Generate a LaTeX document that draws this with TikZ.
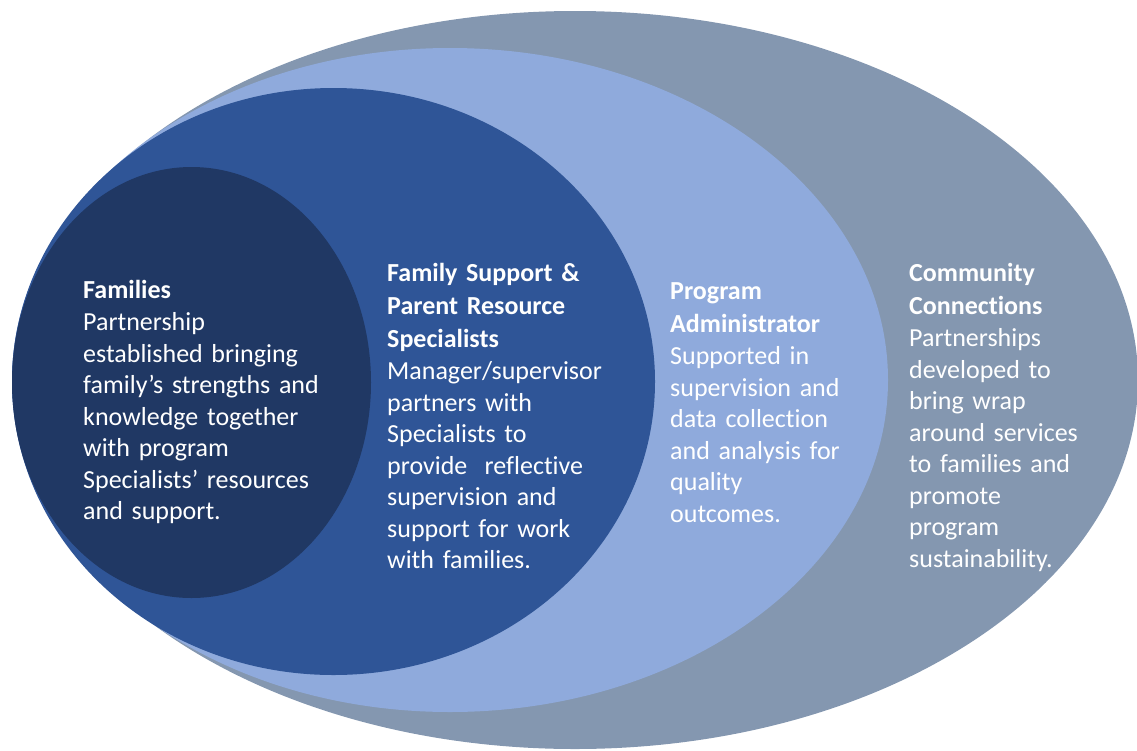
\documentclass[tikz,border=0pt]{standalone}
\usepackage{fontspec}
\setmainfont{Carlito}[Ligatures = NoCommon]
\usetikzlibrary{shapes}

\definecolor{ringgrey}{HTML}{8497B0}
\definecolor{ringlight}{HTML}{8FAADC}
\definecolor{ringdark}{HTML}{2F5597}
\definecolor{ringnavy}{HTML}{203864}

\begin{document}
\begin{tikzpicture}[
                    x = 1pt, y = -1pt,
                    ring/.style = {draw = none, ellipse, inner sep = 0pt},
                    blurb/.style = {anchor = base west, align = left, text = white, inner sep = 0pt,
                                    text width = 250pt, font = \fontsize{26}{31.5}\selectfont}]
                \useasboundingbox (0,0) rectangle (1137,750);
                \node[ring, fill = ringgrey,  minimum width = 1126pt, minimum height = 738pt] (1) at (575,380)   {};
                \node[ring, fill = ringlight, minimum width = 876pt,  minimum height = 664pt] (2) at (450,380)   {};
                \node[ring, fill = ringdark,  minimum width = 643pt,  minimum height = 587pt] (3) at (333.5,381.5) {};
                \node[ring, fill = ringnavy,  minimum width = 359pt,  minimum height = 431pt] (4) at (191.5,382.5) {};
                \node[blurb] (t4) at (83,298)  {\textbf{Families}\\[1pt]
                                                Partnership\\ established bringing\\ family’s strengths and\\
                                                knowledge together\\ with program\\ Specialists’ resources\\ and support.};
                \node[blurb] (t3) at (387,281) {\textbf{Family Support \&}\\[1.5pt] \textbf{Parent Resource}\\[1.5pt]
                                                \textbf{Specialists}\\[1pt] Manager/supervisor\\ partners with\\ Specialists to\\
                                                provide\ \ reflective\\ supervision and\\ support for work\\ with families.};
                \node[blurb] (t2) at (670,299) {\textbf{Program}\\[1.5pt] \textbf{Administrator}\\[1pt]
                                                Supported in\\ supervision and\\ data collection\\ and analysis for\\
                                                quality\\ outcomes.};
                \node[blurb] (t1) at (909,281) {\textbf{Community}\\[1.5pt] \textbf{Connections}\\[1pt]
                                                Partnerships\\ developed to\\ bring wrap\\ around services\\
                                                to families and\\ promote\\ program\\ sustainability.};
            \end{tikzpicture}
\end{document}
